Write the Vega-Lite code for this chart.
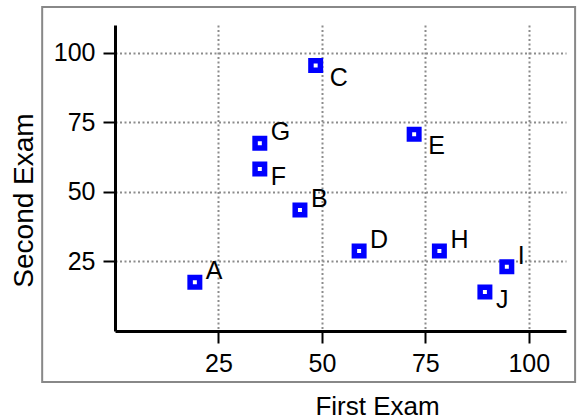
{
  "$schema": "https://vega.github.io/schema/vega-lite/v6.json",
  "width": 451,
  "height": 306,
  "autosize": "none",
  "padding": {"left": 115, "top": 25, "right": 11, "bottom": 88},
  "background": "white",
  "config": {
    "view": {"stroke": null},
    "font": "Liberation Sans",
    "axis": {
      "grid": true,
      "gridDash": [2, 2.5],
      "gridColor": "#8c8c8c",
      "gridWidth": 2,
      "domainColor": "black",
      "domainWidth": 3,
      "tickColor": "black",
      "tickWidth": 2,
      "tickSize": 12,
      "labelFont": "Liberation Sans",
      "labelFontSize": 25,
      "labelColor": "black",
      "labelPadding": 8,
      "labelFlush": false,
      "labelOverlap": false,
      "titleFont": "Liberation Sans",
      "titleFontWeight": "normal",
      "titleColor": "black",
      "titleAlign": "center",
      "titleBaseline": "alphabetic"
    }
  },
  "data": {
    "values": [
      {"name": "A", "first": 19.3, "second": 17.5},
      {"name": "B", "first": 44.7, "second": 43.5},
      {"name": "C", "first": 48.5, "second": 95.4},
      {"name": "D", "first": 59.0, "second": 28.8},
      {"name": "E", "first": 72.3, "second": 70.7},
      {"name": "F", "first": 35.0, "second": 58.2},
      {"name": "G", "first": 35.0, "second": 67.5},
      {"name": "H", "first": 78.4, "second": 28.8},
      {"name": "I", "first": 94.7, "second": 23.1},
      {"name": "J", "first": 89.4, "second": 14.0}
    ]
  },
  "layer": [
    {
      "data": {"values": [{}]},
      "mark": {"type": "rect", "fill": null, "stroke": "#888888", "strokeWidth": 2, "clip": false},
      "encoding": {
        "x": {"datum": -17.6, "type": "quantitative"},
        "x2": {"datum": 111.2},
        "y": {"datum": 116.5, "type": "quantitative"},
        "y2": {"datum": -18.3}
      }
    },
    {
      "mark": {"type": "point", "shape": "square", "size": 90, "strokeWidth": 5.5, "fill": "white", "stroke": "#0000ff", "opacity": 1, "filled": false},
      "encoding": {
        "x": {
          "field": "first", "type": "quantitative",
          "scale": {"domain": [0, 109], "nice": false, "zero": false},
          "axis": {"values": [25, 50, 75, 100], "title": "First Exam", "titleFontSize": 26, "titleX": 262, "titleY": 83}
        },
        "y": {
          "field": "second", "type": "quantitative",
          "scale": {"domain": [0, 110], "nice": false, "zero": false},
          "axis": {"values": [25, 50, 75, 100], "title": "Second Exam", "titleFontSize": 28, "titleX": -82.5, "titleY": 175, "titleAngle": -90}
        }
      }
    },
    {
      "transform": [{"filter": {"field": "name", "oneOf": ["A", "B", "D", "G", "H", "I"]}}],
      "mark": {"type": "text", "align": "left", "baseline": "middle", "dx": 11, "dy": -11, "fontSize": 25, "font": "Liberation Sans", "color": "black"},
      "encoding": {
        "x": {"field": "first", "type": "quantitative"},
        "y": {"field": "second", "type": "quantitative"},
        "text": {"field": "name"}
      }
    },
    {
      "transform": [{"filter": {"field": "name", "oneOf": ["C", "E"]}}],
      "mark": {"type": "text", "align": "left", "baseline": "middle", "dx": 14, "dy": 12, "fontSize": 25, "font": "Liberation Sans", "color": "black"},
      "encoding": {
        "x": {"field": "first", "type": "quantitative"},
        "y": {"field": "second", "type": "quantitative"},
        "text": {"field": "name"}
      }
    },
    {
      "transform": [{"filter": {"field": "name", "oneOf": ["F", "J"]}}],
      "mark": {"type": "text", "align": "left", "baseline": "middle", "dx": 11, "dy": 8, "fontSize": 25, "font": "Liberation Sans", "color": "black"},
      "encoding": {
        "x": {"field": "first", "type": "quantitative"},
        "y": {"field": "second", "type": "quantitative"},
        "text": {"field": "name"}
      }
    }
  ]
}
